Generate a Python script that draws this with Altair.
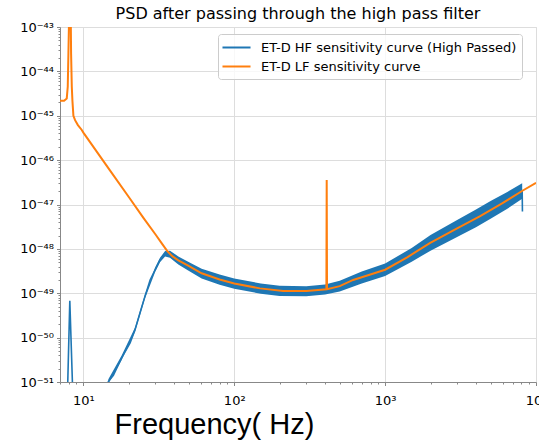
import altair as alt
import pandas as pd

HF = "ET-D HF sensitivity curve (High Passed)"
LF = "ET-D LF sensitivity curve"

# ET-D LF sensitivity curve (orange): frequency [Hz] and log10(PSD)
lf_freq = [7.0, 7.45, 7.76, 7.88, 7.96, 8.04, 8.15, 8.25, 8.29, 8.38, 8.46, 8.59, 8.81, 9.2,
           9.76, 10.0, 15.0, 20.0, 25.0, 30.0, 33.0, 36.0, 39.0, 42.6, 49.5, 60.8, 80,
           100, 148, 211, 301, 408, 410, 412, 500, 614, 700, 1000, 1400, 1977, 3000, 4236,
           6000, 8130, 10000]
lf_log10 = [-44.66, -44.66, -44.61, -44.34, -43.59, -42.8, -42.3, -42.8, -43.59, -44.34,
            -44.66, -45.0, -45.1, -45.21, -45.32, -45.38, -46.23, -46.83, -47.30, -47.67,
            -47.87, -48.05, -48.17, -48.26, -48.38, -48.55, -48.69, -48.78, -48.89, -48.95,
            -48.95, -48.91, -46.45, -48.91, -48.84, -48.70, -48.64, -48.47, -48.19, -47.87,
            -47.54, -47.27, -46.97, -46.69, -46.51]

# ET-D HF sensitivity curve, high passed (blue): centre line
hf_freq = [7.0, 7.80, 7.88, 8.13, 8.46, 8.55, 11.0, 14.64, 15.8, 17.9, 20.4, 22.0, 23.7, 25.6,
           27.7, 29.9, 32.2, 34.8, 37.5, 42.6, 49.5, 60.8, 80, 100, 150, 200, 300, 400, 500,
           700, 1000, 1500, 2000, 3000, 4000, 5000, 6500, 8100, 8130]
hf_log10 = [-53, -52, -51, -49.17, -51, -52, -53, -50.99, -50.85, -50.46, -50.12, -49.82,
            -49.45, -49.07, -48.70, -48.47, -48.25, -48.11, -48.12, -48.26, -48.39, -48.56,
            -48.70, -48.79, -48.90, -48.95, -48.96, -48.92, -48.84, -48.65, -48.47, -48.14,
            -47.87, -47.54, -47.31, -47.12, -46.90, -46.70, -47.16]

# HF noise band (upper / lower envelope, log10)
band_freq = [14.64, 17.9, 22.0, 25.6, 29.9, 32.2, 34.8, 37.5, 42.6, 49.5, 60.8, 80, 100, 150,
             200, 300, 400, 500, 700, 1000, 1500, 2000, 3000, 4000, 5000, 6500, 8100]
band_hi = [-50.94, -50.41, -49.77, -49.02, -48.42, -48.20, -48.05, -48.04, -48.17, -48.29,
           -48.45, -48.58, -48.67, -48.78, -48.83, -48.84, -48.80, -48.72, -48.51, -48.33,
           -47.98, -47.69, -47.35, -47.11, -46.92, -46.71, -46.52]
band_lo = [-51.04, -50.51, -49.87, -49.12, -48.52, -48.30, -48.17, -48.20, -48.35, -48.49,
           -48.67, -48.81, -48.90, -49.01, -49.06, -49.07, -49.03, -48.96, -48.78, -48.61,
           -48.29, -48.04, -47.73, -47.51, -47.32, -47.09, -46.87]

x_major = [10, 100, 1000, 10000]
x_minor = [7, 8, 9] + [m * 10 ** k for k in (1, 2, 3) for m in range(2, 10)]
y_major_exp = list(range(-51, -42))
y_minor = [m * 10.0 ** k for k in range(-51, -43) for m in range(2, 10)]

sup_map = str.maketrans("-0123456789", "⁻⁰¹²³⁴⁵⁶⁷⁸⁹")


def sup(n):
    return "10" + str(n).translate(sup_map)


E = "round(log(datum.value)/LN10)"
IS_MAJOR = f"abs(log(datum.value)/LN10 - {E}) < 0.001"


def label_expr(exps):
    parts = [f"({IS_MAJOR} && {E} == {k}) ? '{sup(k)}'" for k in exps]
    return " : ".join(parts) + " : ''"


hf_df = pd.DataFrame({"freq": hf_freq, "psd": [10 ** v for v in hf_log10], "series": HF})
lf_df = pd.DataFrame({"freq": lf_freq, "psd": [10 ** v for v in lf_log10], "series": LF})
band_df = pd.DataFrame({"freq": band_freq,
                        "hi": [10 ** v for v in band_hi],
                        "lo": [10 ** v for v in band_lo]})

xscale = alt.Scale(type="log", domain=[7, 10000], nice=False)
yscale = alt.Scale(type="log", domain=[1e-51, 1e-43], nice=False)

tick_size = {"condition": {"test": IS_MAJOR, "value": 3.5}, "value": 2}
grid_op = {"condition": {"test": IS_MAJOR, "value": 1}, "value": 0}

x_axis = alt.Axis(values=x_major + x_minor, labelExpr=label_expr([1, 2, 3, 4]),
                  tickSize=tick_size, gridOpacity=grid_op, grid=True,
                  title="Frequency( Hz)", titleFont="Liberation Sans", titleFontSize=29,
                  titleFontWeight="normal", titleColor="black", titleX=154, titleY=51,
                  titleAlign="center", titleBaseline="alphabetic",
                  labelFont="DejaVu Sans", labelFontSize=13, labelColor="black",
                  labelPadding=9, labelFlush=False, labelOverlap=False)
y_axis = alt.Axis(values=[10.0 ** k for k in y_major_exp] + y_minor,
                  labelExpr=label_expr(y_major_exp), tickSize=tick_size,
                  gridOpacity=grid_op, grid=True, title=None,
                  labelFont="DejaVu Sans", labelFontSize=13, labelColor="black",
                  labelPadding=3, labelFlush=False, labelOverlap=False)

color = alt.Color("series:N",
                  scale=alt.Scale(domain=[HF, LF], range=["#1f77b4", "#ff7f0e"]),
                  legend=alt.Legend(orient="none", legendX=158, legendY=7, title=None,
                                    symbolType="M-1.87,0H1.87", symbolSize=225,
                                    symbolStrokeWidth=2, symbolOffset=5, labelOffset=16,
                                    labelFont="DejaVu Sans", labelFontSize=13,
                                    labelColor="black", padding=5, rowPadding=3,
                                    fillColor="rgba(255,255,255,0.8)", strokeColor="#cccccc",
                                    cornerRadius=3, labelLimit=400))

band = alt.Chart(band_df).mark_area(color="#1f77b4", clip=True, opacity=1).encode(
    x=alt.X("freq:Q", scale=xscale, axis=x_axis),
    y=alt.Y("lo:Q", scale=yscale, axis=y_axis),
    y2="hi:Q",
)
hf_line = alt.Chart(hf_df).mark_line(clip=True, strokeWidth=1.6).encode(
    x=alt.X("freq:Q", scale=xscale),
    y=alt.Y("psd:Q", scale=yscale),
    color=color,
)
lf_line = alt.Chart(lf_df).mark_line(clip=True, strokeWidth=2).encode(
    x=alt.X("freq:Q", scale=xscale),
    y=alt.Y("psd:Q", scale=yscale),
    color=color,
)

chart = alt.layer(band, hf_line, lf_line).properties(
    width=476, height=355,
    title=alt.TitleParams("PSD after passing through the high pass filter",
                          font="DejaVu Sans", fontSize=16, fontWeight="normal",
                          color="black", anchor="middle", offset=6, baseline="bottom",
                          dy=23),
    autosize=alt.AutoSizeParams(type="none"),
    padding={"left": 60, "top": 27, "right": 3, "bottom": 58},
).configure_view(stroke="black", strokeWidth=1).configure_axis(
    domainColor="black", tickColor="black", gridColor="#b0b0b0", gridWidth=0.9,
    tickWidth=1,
).configure(background="white")

chart.save("out.html", embed_options={"renderer": "svg", "actions": False})
